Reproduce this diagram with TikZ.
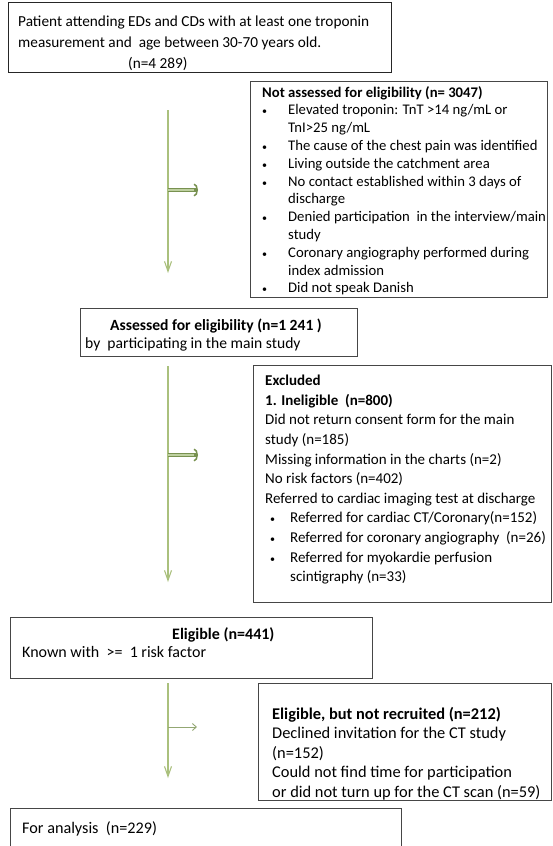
\documentclass[tikz,border=0pt]{standalone}
\usepackage{fontspec}
\setmainfont{Carlito}
\usetikzlibrary{arrows.meta}
\definecolor{boxgray}{RGB}{70,70,70}
\definecolor{flowgreen}{RGB}{170,192,125}
\definecolor{sidegreen}{RGB}{120,145,80}
\definecolor{sidelight}{RGB}{190,208,160}
\newcommand{\smbul}{{\fontsize{10}{10}\selectfont\textbullet}}
\newcommand{\bul}{\makebox[26pt][l]{\smbul}}
\newcommand{\bulcont}{\hspace*{26pt}}
\newcommand{\bulb}{\hspace*{5pt}\makebox[20pt][l]{\smbul}}
\newcommand{\bulbcont}{\hspace*{25pt}}
\begin{document}
\begin{tikzpicture}[x=1pt,y=-1pt,
  frame/.style={draw=boxgray, line width=1.3pt, inner sep=0pt, anchor=north west},
  txt/.style={anchor=north west, inner sep=0pt, align=left},
  mainflow/.style={draw=flowgreen, line width=1.2pt, -{Straight Barb[length=10pt,width=7pt,line width=1.1pt]}},
  sideflow/.style={draw=sidegreen, line width=3.4pt, -{Arc Barb[length=4pt,width=13pt,line width=1.5pt]}},
  sidecore/.style={draw=sidelight, line width=1.4pt, shorten >=4pt},
  thinflow/.style={draw=sidegreen!80!white, line width=0.9pt, -{Straight Barb[length=4pt,width=7pt,line width=0.9pt]}}
]
\useasboundingbox (0,0) rectangle (553,846);
\fill[white] (0,0) rectangle (553,846);

% box 1
\node[frame, draw=black!85, line width=1.1pt, minimum width=383pt, minimum height=70pt] (b1) at (8,2) {};
\node[txt, font=\fontsize{15.3}{21}\selectfont] (t1) at (18,16) {Patient attending EDs and CDs with at least one troponin\\measurement and\ \ age between 30-70 years old.\\\hspace*{110pt}(n=4 289)};

% box 2
\node[frame, minimum width=297pt, minimum height=216pt] (b2) at (250,81) {};
\node[txt, font=\fontsize{14.7}{17.8}\selectfont] (t2) at (262,86) {\textbf{Not assessed for eligibility (n= 3047)}\\
\bul Elevated troponin: TnT >14 ng/mL or\\
\bulcont TnI>25 ng/mL\\
\bul The cause of the chest pain was identified\\
\bul Living outside the catchment area\\
\bul No contact established within 3 days of\\
\bulcont discharge\\
\bul Denied participation\ \ in the interview/main\\
\bulcont study\\
\bul Coronary angiography performed during\\
\bulcont index admission\\
\bul Did not speak Danish};

% box 3
\node[frame, minimum width=277pt, minimum height=48pt] (b3) at (80,308) {};
\node[txt, font=\fontsize{15.6}{18}\selectfont] (t3) at (85,319) {\hspace*{25pt}\textbf{Assessed for eligibility (n=1 241 )}\\by\ \ participating in the main study};

% box 4
\node[frame, minimum width=298pt, minimum height=237pt] (b4) at (253,365) {};
\node[txt, font=\fontsize{15}{19.6}\selectfont] (t4) at (265,375) {\textbf{Excluded}\\
\textbf{1. Ineligible\ \ (n=800)}\\
Did not return consent form for the main\\
study (n=185)\\
Missing information in the charts (n=2)\\
No risk factors (n=402)\\
Referred to cardiac imaging test at discharge\\
\bulb Referred for cardiac CT/Coronary(n=152)\\
\bulb Referred for coronary angiography\ \ (n=26)\\
\bulb Referred for myokardie perfusion\\
\bulbcont scintigraphy (n=33)};

% box 5
\node[frame, minimum width=362pt, minimum height=61pt] (b5) at (10,617) {};
\node[txt, font=\fontsize{16}{18}\selectfont] (t5) at (22,627) {\hspace*{150pt}\textbf{Eligible (n=441)}\\Known with\ \ >=\ \ 1 risk factor};

% box 6
\node[frame, minimum width=293pt, minimum height=117pt] (b6) at (258,683) {};
\node[txt, font=\fontsize{16.4}{19.5}\selectfont] (t6) at (272,707) {\textbf{Eligible, but not recruited (n=212)}\\
Declined invitation for the CT study\\
(n=152)\\
Could not find time for participation\\
or did not turn up for the CT scan (n=59)};

% box 7
\node[frame, minimum width=391pt, minimum height=45pt] (b7) at (10,808) {};
\node[txt, font=\fontsize{16.2}{19.5}\selectfont] (t7) at (22,821) {For analysis\ \ (n=229)};

% arrows
\coordinate (a1s) at (168,110);
\coordinate (a1e) at (168,273);
\coordinate (a1m) at (168,190);
\coordinate (a1t) at (198,190);
\coordinate (a2s) at (168,366);
\coordinate (a2e) at (168,582);
\coordinate (a2m) at (168,455);
\coordinate (a2t) at (198,455);
\coordinate (a3s) at (168,683);
\coordinate (a3e) at (168,778);
\coordinate (a3m) at (168,727);
\coordinate (a3t) at (197,727);
\draw[mainflow] (a1s) -- (a1e);
\draw[sideflow] (a1m) -- (a1t);
\draw[sidecore] (a1m) -- (a1t);
\draw[mainflow] (a2s) -- (a2e);
\draw[sideflow] (a2m) -- (a2t);
\draw[sidecore] (a2m) -- (a2t);
\draw[mainflow] (a3s) -- (a3e);
\draw[thinflow] (a3m) -- (a3t);
\end{tikzpicture}
\end{document}
